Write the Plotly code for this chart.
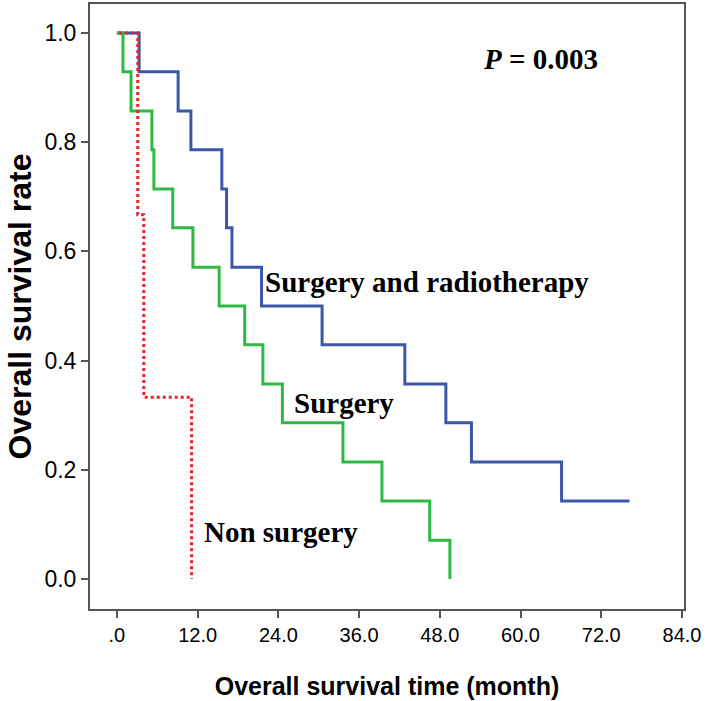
import plotly.graph_objects as go

# Kaplan-Meier step points (month, survival rate)
radio_time = [0, 3.3, 9.1, 11.0, 15.6, 16.3, 17.1, 21.5, 30.5, 42.8, 48.9, 52.7, 66.1, 76.2]
radio_surv = [1.0, 0.929, 0.857, 0.786, 0.714, 0.643, 0.571, 0.5, 0.429, 0.357, 0.286, 0.214, 0.143, 0.143]

surg_time = [0, 0.9, 2.1, 5.2, 5.5, 8.3, 11.3, 15.2, 19.0, 21.7, 24.6, 33.6, 39.4, 46.5, 49.5]
surg_surv = [1.0, 0.929, 0.857, 0.786, 0.714, 0.643, 0.571, 0.5, 0.429, 0.357, 0.286, 0.214, 0.143, 0.071, 0.0]

non_time = [0.3, 3.1, 4.0, 11.1]
non_surv = [1.0, 0.667, 0.333, 0.0]

x_ticks = [0, 12, 24, 36, 48, 60, 72, 84]
x_labels = [".0", "12.0", "24.0", "36.0", "48.0", "60.0", "72.0", "84.0"]
y_ticks = [0, 0.2, 0.4, 0.6, 0.8, 1.0]
y_labels = ["0.0", "0.2", "0.4", "0.6", "0.8", "1.0"]

fig = go.Figure()
fig.add_trace(go.Scatter(x=radio_time, y=radio_surv, mode="lines", line_shape="hv",
                         line=dict(color="#3c56a8", width=3)))
fig.add_trace(go.Scatter(x=surg_time, y=surg_surv, mode="lines", line_shape="hv",
                         line=dict(color="#2fb843", width=3)))
fig.add_trace(go.Scatter(x=non_time, y=non_surv, mode="lines", line_shape="hv",
                         line=dict(color="#e8232d", width=3, dash="dot")))

serif = "Liberation Serif, Times New Roman, serif"
notes = [
    (62.9, 0.952, "<b><i>P</i> = 0.003</b>", "center"),
    (21.7, 0.544, "<b>Surgery and radiotherapy</b>", "left"),
    (26.0, 0.322, "<b>Surgery</b>", "left"),
    (12.6, 0.086, "<b>Non surgery</b>", "left"),
]
for x, y, txt, anc in notes:
    fig.add_annotation(x=x, y=y, text=txt, showarrow=False, xanchor=anc, yanchor="middle",
                       font=dict(family=serif, size=29, color="black"))

axis_common = dict(showgrid=False, zeroline=False, showline=True, linecolor="#555555",
                   linewidth=2, mirror=True, ticks="outside", ticklen=7, tickwidth=2,
                   tickcolor="#555555", automargin=False)

fig.update_xaxes(range=[-4.0, 84.3], tickvals=x_ticks, ticktext=x_labels,
                 tickfont=dict(family="Liberation Sans, Arial", size=20, color="black"),
                 title=dict(text="<b>Overall survival time (month)</b>", standoff=32,
                            font=dict(family="Liberation Sans, Arial", size=25, color="black")),
                 **axis_common)
fig.update_yaxes(range=[-0.055, 1.053], tickvals=y_ticks, ticktext=y_labels,
                 tickfont=dict(family="Liberation Sans, Arial", size=23, color="black"),
                 title=dict(text="<b>Overall survival rate</b>", standoff=3,
                            font=dict(family="Liberation Sans, Arial", size=32, color="black")),
                 **axis_common)

fig.update_layout(width=706, height=701, showlegend=False,
                  plot_bgcolor="white", paper_bgcolor="white",
                  margin=dict(l=90, r=22, t=4, b=92))

fig.write_html("out.html", config={"displayModeBar": False},
               post_script="document.body.style.margin='0px';")
